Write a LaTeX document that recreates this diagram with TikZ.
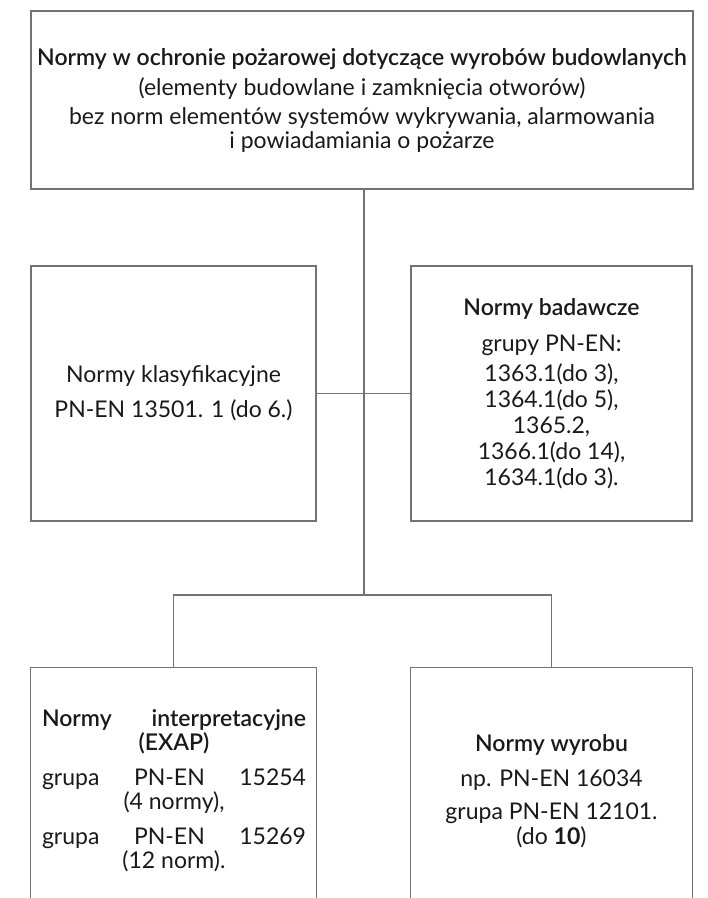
\documentclass[tikz,border=0pt]{standalone}
\usepackage{fontspec}
\setmainfont{Lato}
\IfFontExistsTF{Lato Semibold}{\newfontfamily\semib{Lato Semibold}}{\newcommand{\semib}{\bfseries}}
\definecolor{linegray}{gray}{0.45}
\definecolor{textcol}{gray}{0.1}
\begin{document}
\begin{tikzpicture}[x=1pt,y=-1pt,
  frame/.style={draw=linegray, line width=1.1pt, inner sep=0pt, align=center,
    text=textcol, font=\fontsize{23}{26}\selectfont},
  openframe/.style={frame, draw=none},
  txt/.style={inner sep=0pt, align=center, text=textcol, font=\fontsize{23}{26}\selectfont},
  wire/.style={draw=linegray, line width=1.1pt}]
\useasboundingbox (0,0) rectangle (708,898);

\node[frame, minimum width=662pt, minimum height=178pt] (top) at (362,100)
  {{\semib Normy w ochronie pożarowej dotyczące wyrobów budowlanych}\\[4pt]
   (elementy budowlane i zamknięcia otworów)\\[3pt]
   bez norm elementów systemów wykrywania, alarmowania\\[-2pt]
   i powiadamiania o pożarze};

\node[frame, minimum width=285pt, minimum height=255pt] (ml) at (173.5,393.5)
  {Normy klasyfikacyjne\\[9pt] PN-EN 13501. 1 (do 6.)};

\node[frame, minimum width=281pt, minimum height=255pt] (mr) at (551.5,393.5)
  {{\semib Normy badawcze}\\[10pt]
   grupy PN-EN:\\[4pt]
   1363.1(do 3),\\
   1364.1(do 5),\\
   1365.2,\\
   1366.1(do 14),\\
   1634.1(do 3).};

\node[openframe, minimum width=285pt, minimum height=230pt] (bl) at (173.5,783) {};
\node[openframe, minimum width=281pt, minimum height=230pt] (br) at (551.5,783) {};

\node[txt] (blt) at (174,790.5)
  {{\semib\makebox[264pt]{Normy\hfill interpretacyjne}}\\[-2pt]
   {\semib (EXAP)}\\[9pt]
   \makebox[264pt]{grupa\hfill PN-EN\hfill 15254}\\[-2pt]
   (4 normy),\\[9pt]
   \makebox[264pt]{grupa\hfill PN-EN\hfill 15269}\\[-2pt]
   (12 norm).};

\node[txt] (brt) at (551.5,791.5)
  {{\semib Normy wyrobu}\\[9pt]
   np. PN-EN 16034\\[7pt]
   grupa PN-EN 12101.\\[-1pt]
   (do {\bfseries 10})};

\draw[wire] (bl.south west) -- (bl.north west) -- (bl.north east) -- (bl.south east);
\draw[wire] (br.south west) -- (br.north west) -- (br.north east) -- (br.south east);

\coordinate (j2) at (364,595);
\draw[wire] (top.south -| j2) -- (j2);
\draw[wire] (ml.east) -- (mr.west);
\draw[wire] (bl.north) -- (bl.north |- j2) -- (br.north |- j2) -- (br.north);
\end{tikzpicture}
\end{document}
